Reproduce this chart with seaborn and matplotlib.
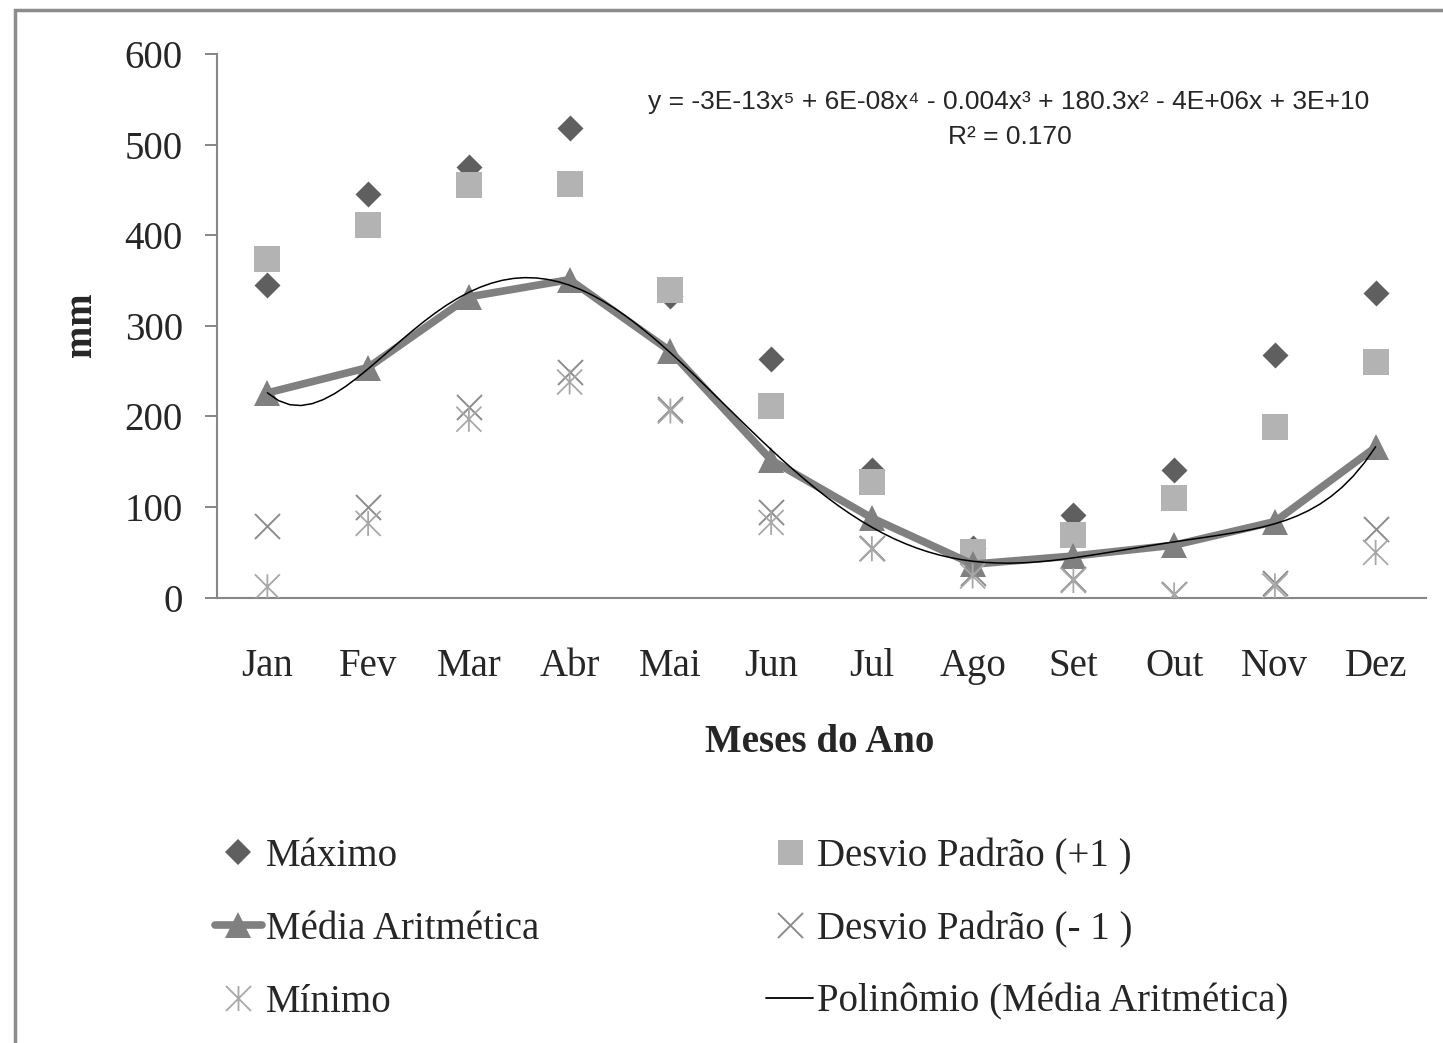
import numpy as np
import pandas as pd
import matplotlib
matplotlib.use("Agg")
import matplotlib.pyplot as plt
from matplotlib.lines import Line2D
from matplotlib.path import Path
from matplotlib.patches import Rectangle
import seaborn as sns

# Monthly rainfall statistics (mm)
meses = ["Jan", "Fev", "Mar", "Abr", "Mai", "Jun", "Jul", "Ago", "Set", "Out", "Nov", "Dez"]
maximo = [345, 446, 475, 518, 333, 263, 141, 55, 91, 141, 268, 336]
desvio_mais = [374, 411, 455, 456, 340, 212, 128, 50, 69, 110, 188, 260]
media = [226, 254, 332, 351, 272, 152, 88, 37, 46, 58, 84, 166]
desvio_menos = [79, 100, 210, 249, 208, 95, 55, 27, 21, 4, 16, 76]
minimo = [12, 82, 197, 238, 206, 83, 54, 24, 19, 3, 13, 50]
y_ticks = [0, 100, 200, 300, 400, 500, 600]

equacao = "y = -3E-13x\u2075 + 6E-08x\u2074 - 0.004x\u00b3 + 180.3x\u00b2 - 4E+06x + 3E+10"
r2_texto = "R\u00b2 = 0.170"

sns.set_theme(style="white")
plt.rcParams["font.family"] = ["Liberation Serif", "DejaVu Serif"]

df = pd.DataFrame({
    "idx": np.arange(len(meses)),
    "maximo": maximo,
    "desvio_mais": desvio_mais,
    "media": media,
    "desvio_menos": desvio_menos,
    "minimo": minimo,
})

c_max = "#5f5f5f"
c_dp_mais = "#b3b3b3"
c_media = "#808080"
c_dp_menos = "#8c8c8c"
c_min = "#a8a8a8"

# Excel-style star: an X crossed by a vertical stroke
star = Path(
    [(-0.5, -0.5), (0.5, 0.5), (-0.5, 0.5), (0.5, -0.5), (0, -0.5), (0, 0.5)],
    [Path.MOVETO, Path.LINETO, Path.MOVETO, Path.LINETO, Path.MOVETO, Path.LINETO],
)

fig = plt.figure(figsize=(14.43, 10.43), dpi=100)
ax = fig.add_axes([217 / 1443, 1 - 597.7 / 1043, (1426 - 217) / 1443, (597.7 - 54) / 1043])

sns.scatterplot(data=df, x="idx", y="maximo", marker="D", s=175, color=c_max,
                edgecolor=c_max, linewidth=0, ax=ax, legend=False, zorder=3)
sns.scatterplot(data=df, x="idx", y="desvio_mais", marker="s", s=350, color=c_dp_mais,
                edgecolor=c_dp_mais, linewidth=0, ax=ax, legend=False, zorder=4)
sns.lineplot(data=df, x="idx", y="media", color=c_media, lw=5.5, marker="^",
             markersize=18.7, markeredgewidth=0, ax=ax, legend=False, zorder=5)
sns.scatterplot(data=df, x="idx", y="desvio_menos", marker="x", s=324, color=c_dp_menos,
                linewidth=1.4, ax=ax, legend=False, zorder=6)
sns.scatterplot(data=df, x="idx", y="minimo", marker=star, s=324, facecolor="none",
                edgecolor=c_min, linewidth=1.3, ax=ax, legend=False, zorder=6)
# Polynomial trend of the monthly mean
sns.regplot(data=df, x="idx", y="media", order=6, ci=None, scatter=False, truncate=True,
            line_kws=dict(color="black", lw=1.1, zorder=7), ax=ax)

ax.set_xlim(-0.5, len(meses) - 0.5)
ax.set_ylim(0, 600)
ax.set_yticks(y_ticks)
ax.set_xticks(np.arange(len(meses)))
ax.set_xticklabels(meses)
ax.tick_params(axis="y", direction="out", length=8.6, width=1.4, color="#868686",
               labelsize=28, pad=16, left=True)
ax.tick_params(axis="x", length=0, labelsize=28, pad=36)
for side in ["top", "right"]:
    ax.spines[side].set_visible(False)
for side in ["left", "bottom"]:
    ax.spines[side].set_color("#868686")
    ax.spines[side].set_linewidth(1.5)
ax.grid(False)
ax.set_xlabel("")
ax.set_ylabel("")

fig.text(820 / 1443, 1 - 743 / 1043, "Meses do Ano", fontsize=28, fontweight="bold",
         ha="center", va="center")
fig.text(82 / 1443, 1 - 325 / 1043, "mm", fontsize=28, fontweight="bold",
         ha="center", va="center", rotation=90)

eq_font = ["Liberation Sans", "DejaVu Sans"]
fig.text(1009 / 1443, 1 - 102 / 1043, equacao, fontsize=19, family=eq_font,
         ha="center", va="center")
fig.text(1010 / 1443, 1 - 137 / 1043, r2_texto, fontsize=19, family=eq_font,
         ha="center", va="center")

handles = [
    Line2D([], [], ls="none", marker="D", ms=13, color=c_max, mew=0),
    Line2D([], [], color=c_media, lw=5.5, marker="^", ms=18.7, mew=0),
    Line2D([], [], ls="none", marker=star, ms=18, color=c_min, mew=1.3, fillstyle="none"),
    Line2D([], [], ls="none", marker="s", ms=18, color=c_dp_mais, mew=0),
    Line2D([], [], ls="none", marker="x", ms=18, color=c_dp_menos, mew=1.4),
    Line2D([], [], color="black", lw=1.3),
]
labels = ["Máximo", "Média Aritmética", "Mínimo",
          "Desvio Padrão (+1 )", "Desvio Padrão (- 1 )", "Polinômio (Média Aritmética)"]
fig.legend(handles, labels, ncol=2, loc="upper left",
           bbox_to_anchor=(215 / 1443, 1 - 838 / 1043), frameon=False, fontsize=28,
           handlelength=1.2, handletextpad=0.1, labelspacing=0.92, columnspacing=5.85,
           borderpad=0, borderaxespad=0)

fig.patches.append(Rectangle((14.5 / 1443, -0.05), 1.2, 1 - 9.5 / 1043 + 0.05,
                             transform=fig.transFigure, fill=False,
                             edgecolor="#8c8c8c", lw=2.5))

fig.savefig("out.png", dpi=100, facecolor="white")
